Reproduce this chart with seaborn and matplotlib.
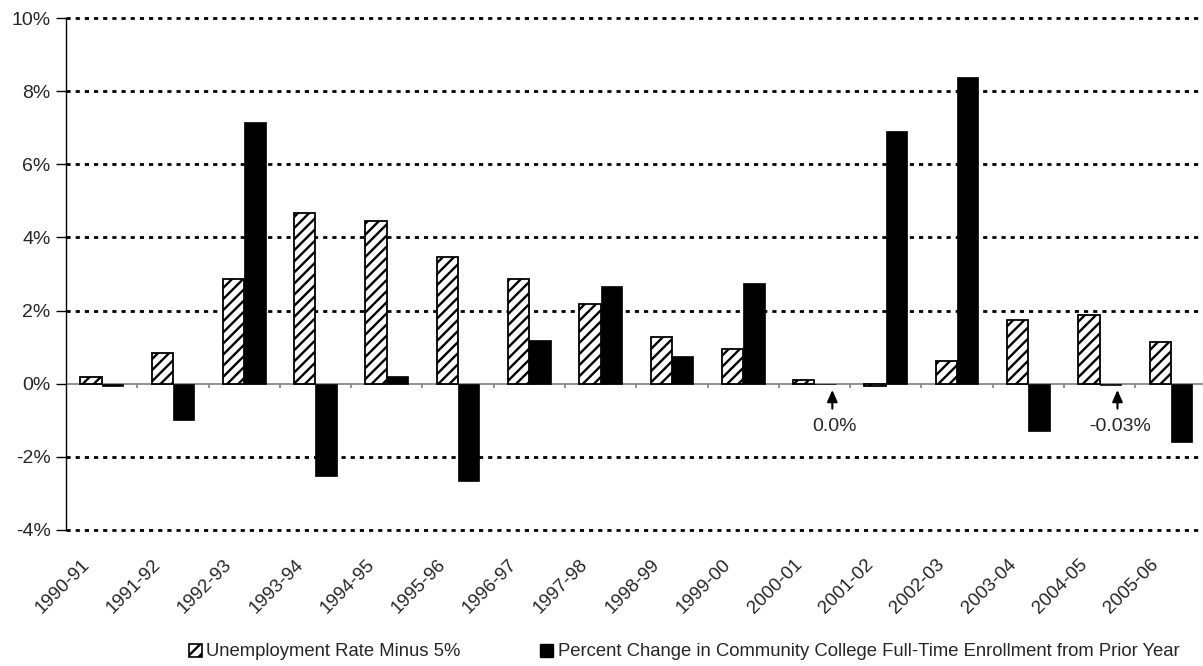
import matplotlib
matplotlib.use('Agg')
import matplotlib.pyplot as plt
import matplotlib.transforms as mtransforms
import numpy as np
import pandas as pd
import seaborn as sns
from matplotlib.patches import Patch

# data (percent)
years = ['1990-91', '1991-92', '1992-93', '1993-94', '1994-95', '1995-96', '1996-97', '1997-98',
         '1998-99', '1999-00', '2000-01', '2001-02', '2002-03', '2003-04', '2004-05', '2005-06']
unemployment = [0.18, 0.84, 2.86, 4.68, 4.45, 3.47, 2.85, 2.19,
                1.29, 0.95, 0.10, -0.07, 0.62, 1.73, 1.88, 1.15]
enrollment = [-0.07, -1.0, 7.16, -2.53, 0.22, -2.67, 1.20, 2.68,
              0.77, 2.76, 0.0, 6.90, 8.39, -1.28, -0.03, -1.60]
series_names = ['Unemployment Rate Minus 5%',
                'Percent Change in Community College Full-Time Enrollment from Prior Year']
notes = {10: '0.0%', 14: '-0.03%'}

df = pd.DataFrame({'year': years * 2,
                   'value': unemployment + enrollment,
                   'series': [series_names[0]] * len(years) + [series_names[1]] * len(years)})

sns.set_style('white')
plt.rcParams['font.family'] = ['Liberation Sans', 'DejaVu Sans']
plt.rcParams['hatch.linewidth'] = 1.7

fig = plt.figure(figsize=(12.03, 6.66), dpi=100)
ax = fig.add_axes([66 / 1203, 1 - 530 / 666, 1 - 66 / 1203, (530 - 18) / 666])

sns.barplot(data=df, x='year', y='value', hue='series', ax=ax, width=0.6, gap=0,
            palette=['white', 'black'], legend=False)

for bar in ax.containers[0]:
    bar.set_facecolor('white')
    bar.set_edgecolor('black')
    bar.set_hatch('///')
    bar.set_linewidth(1.3)
for bar in ax.containers[1]:
    bar.set_facecolor('black')
    bar.set_edgecolor('black')
    bar.set_linewidth(0.5)

ax.set_ylim(-4, 10)
ax.set_xlim(-0.5, 15.45)
ax.set_yticks(np.arange(-4, 11, 2))
ax.set_yticklabels([f'{v}%' for v in range(-4, 11, 2)], fontsize=14)
for v in range(-4, 11, 2):
    if v != 0:
        ax.axhline(v, color='black', lw=2, ls=(0, (1.5, 1.8)), zorder=0.5, clip_on=False)
ax.axhline(0, color='#808080', lw=1.2, zorder=0.6)
ax.vlines(np.arange(len(years)) + 0.5, -0.12, 0, color='#808080', lw=1.2)

for s in ['top', 'right', 'bottom']:
    ax.spines[s].set_visible(False)
ax.spines['left'].set_color('black')
ax.spines['left'].set_linewidth(1.0)
ax.tick_params(axis='y', left=True, length=7, width=1, color='black', pad=4)
ax.tick_params(axis='x', bottom=False, pad=0)
ax.set_xticks(range(len(years)))
ax.set_xticklabels(years, rotation=45, ha='right', va='center', rotation_mode='anchor', fontsize=13.5)
shift = mtransforms.ScaledTranslation(-15 / 100, -27 / 100, fig.dpi_scale_trans)
for lab in ax.get_xticklabels():
    lab.set_transform(lab.get_transform() + shift)
ax.set_xlabel('')
ax.set_ylabel('')

for i, txt in notes.items():
    ax.annotate('', xy=(i + 0.25, -0.17), xytext=(i + 0.25, -0.68),
                arrowprops=dict(arrowstyle='-|>,head_length=0.5,head_width=0.22',
                                color='black', lw=1.5, mutation_scale=14, shrinkA=0, shrinkB=0))
    ax.text(i + 0.28, -1.18, txt, ha='center', va='center', fontsize=14)

handles = [Patch(facecolor='white', edgecolor='black', hatch='///', lw=1.2),
           Patch(facecolor='black', edgecolor='black')]
fig.legend(handles, series_names, loc='center', bbox_to_anchor=(684 / 1203, 1 - 652 / 666),
           ncol=2, frameon=False, fontsize=13.3, handlelength=0.7, handleheight=0.7,
           handletextpad=0.25, columnspacing=4.3)

fig.savefig('out.png', dpi=100)
